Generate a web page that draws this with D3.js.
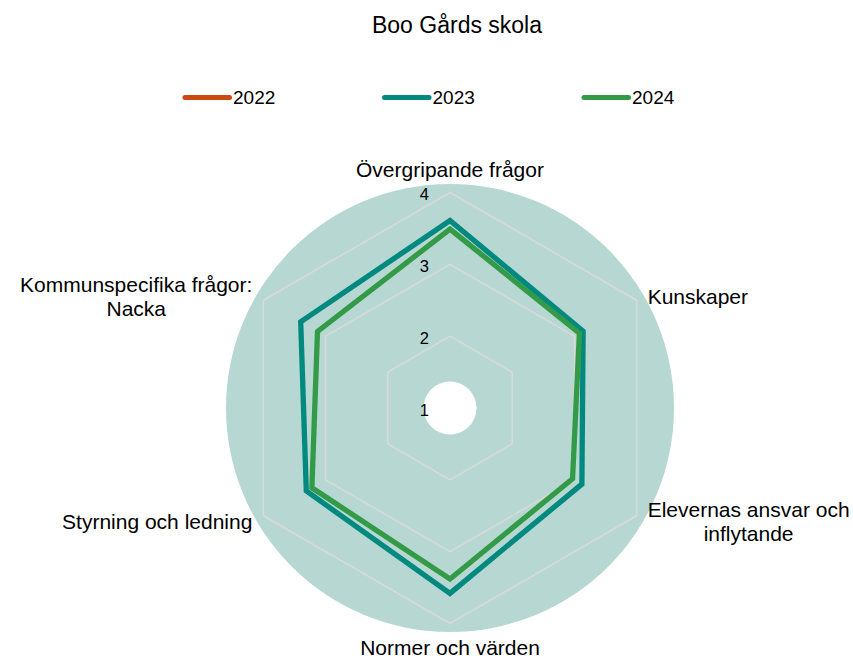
<!DOCTYPE html>
<html>
<head>
<meta charset="utf-8">
<script src="https://cdn.jsdelivr.net/npm/d3@7"></script>
<style>
  body { margin: 0; background: #fff; }
  text { font-family: "Liberation Sans", Arial, sans-serif; fill: #000; }
</style>
</head>
<body>
<div id="chart"></div>
<script>
// chart data
var title = 'Boo Gårds skola';
var categories = [
  ['Övergripande frågor'],
  ['Kunskaper'],
  ['Elevernas ansvar och', 'inflytande'],
  ['Normer och värden'],
  ['Styrning och ledning'],
  ['Kommunspecifika frågor:', 'Nacka']
];
var seriesNames = ['2022', '2023', '2024'];
var values2022 = [];
var values2023 = [3.61, 3.14, 3.12, 3.58, 3.31, 3.40];
var values2024 = [3.49, 3.08, 2.97, 3.38, 3.22, 3.13];
var tickValues = [1, 2, 3, 4];

var seriesColors = ['#CB4A10', '#00897F', '#339B47'];

// set the dimensions of the canvas
var width = 853;
var height = 659;
var cx = 450, cy = 408;
var outerR = 215.5;

var svg = d3.select('#chart').append('svg')
    .attr('width', width)
    .attr('height', height);

// radial scale, value 1 sits at the centre
var r = d3.scaleLinear().domain([1, 4]).range([0, outerR]);
var angle = d3.scalePoint()
    .domain(d3.range(categories.length))
    .range([0, 2 * Math.PI * (categories.length - 1) / categories.length]);

function pt(i, v) {
  var a = angle(i);
  return [cx + r(v) * Math.sin(a), cy - r(v) * Math.cos(a)];
}

// title
svg.append('text')
    .attr('x', 457)
    .attr('y', 33)
    .attr('text-anchor', 'middle')
    .attr('font-size', '23px')
    .text(title);

// legend
var legendX = d3.scaleBand().domain(seriesNames).range([182, 780.5]);
var legend = svg.selectAll('g.legend')
    .data(seriesNames)
  .enter().append('g')
    .attr('class', 'legend')
    .attr('transform', function(d) { return 'translate(' + legendX(d) + ',97.5)'; });

legend.append('line')
    .attr('x1', 3).attr('x2', 47.5)
    .attr('stroke', function(d, i) { return seriesColors[i]; })
    .attr('stroke-width', 5)
    .attr('stroke-linecap', 'round');

legend.append('text')
    .attr('x', 51)
    .attr('y', 6.5)
    .attr('font-size', '19px')
    .text(function(d) { return d; });

var plot = svg.append('g');

// background disc with a hole
plot.append('circle')
    .attr('cx', cx).attr('cy', cy).attr('r', 224)
    .attr('fill', '#B7D7D3');
plot.append('circle')
    .attr('cx', cx).attr('cy', cy).attr('r', 26.5)
    .attr('fill', '#fff');

// hexagon grid
var radarLine = d3.lineRadial()
    .angle(function(d, i) { return angle(i); })
    .radius(function(d) { return r(d); })
    .curve(d3.curveLinearClosed);

plot.selectAll('path.grid')
    .data(tickValues.filter(function(t) { return t > 1; }))
  .enter().append('path')
    .attr('class', 'grid')
    .attr('transform', 'translate(' + cx + ',' + cy + ')')
    .attr('d', function(t) { return radarLine(categories.map(function() { return t; })); })
    .attr('fill', 'none')
    .attr('stroke', '#D9D9D9')
    .attr('stroke-width', 1.5);

// tick labels
plot.selectAll('text.tick')
    .data(tickValues)
  .enter().append('text')
    .attr('class', 'tick')
    .attr('x', cx - 21)
    .attr('y', function(t) { return cy - r(t) + 7.5; })
    .attr('text-anchor', 'end')
    .attr('font-size', '16.5px')
    .text(function(t) { return t; });

// series
var allValues = [values2022, values2023, values2024];
allValues.forEach(function(vals, k) {
  if (!vals.length) return;
  plot.append('path')
    .attr('transform', 'translate(' + cx + ',' + cy + ')')
    .attr('d', radarLine(vals))
    .attr('fill', 'none')
    .attr('stroke', seriesColors[k])
    .attr('stroke-width', 5.3)
    .attr('stroke-linejoin', 'miter');
});

// category labels
categories.forEach(function(lines, i) {
  var a = angle(i);
  var sx = Math.sin(a), dy = -Math.cos(a);
  var v = pt(i, 4);
  var anchor, x, centerY;
  if (Math.abs(sx) < 0.1) {
    anchor = 'middle';
    x = v[0];
    centerY = v[1] + dy * 23.5;
  } else {
    anchor = sx > 0 ? 'start' : 'end';
    x = v[0] + (sx > 0 ? 11 : -11);
    centerY = v[1] + dy * 10 + 1;
  }
  var g = svg.append('g');
  var texts = g.selectAll('text')
      .data(lines)
    .enter().append('text')
      .attr('font-size', '21px')
      .attr('text-anchor', 'middle')
      .attr('y', function(d, k) { return centerY + 7.5 + (k - (lines.length - 1) / 2) * 24; })
      .text(function(d) { return d; });
  var w = d3.max(texts.nodes(), function(n) { return n.getComputedTextLength(); });
  var mid = anchor === 'middle' ? x : (anchor === 'start' ? x + w / 2 : x - w / 2);
  texts.attr('x', mid);
});
</script>
</body>
</html>
